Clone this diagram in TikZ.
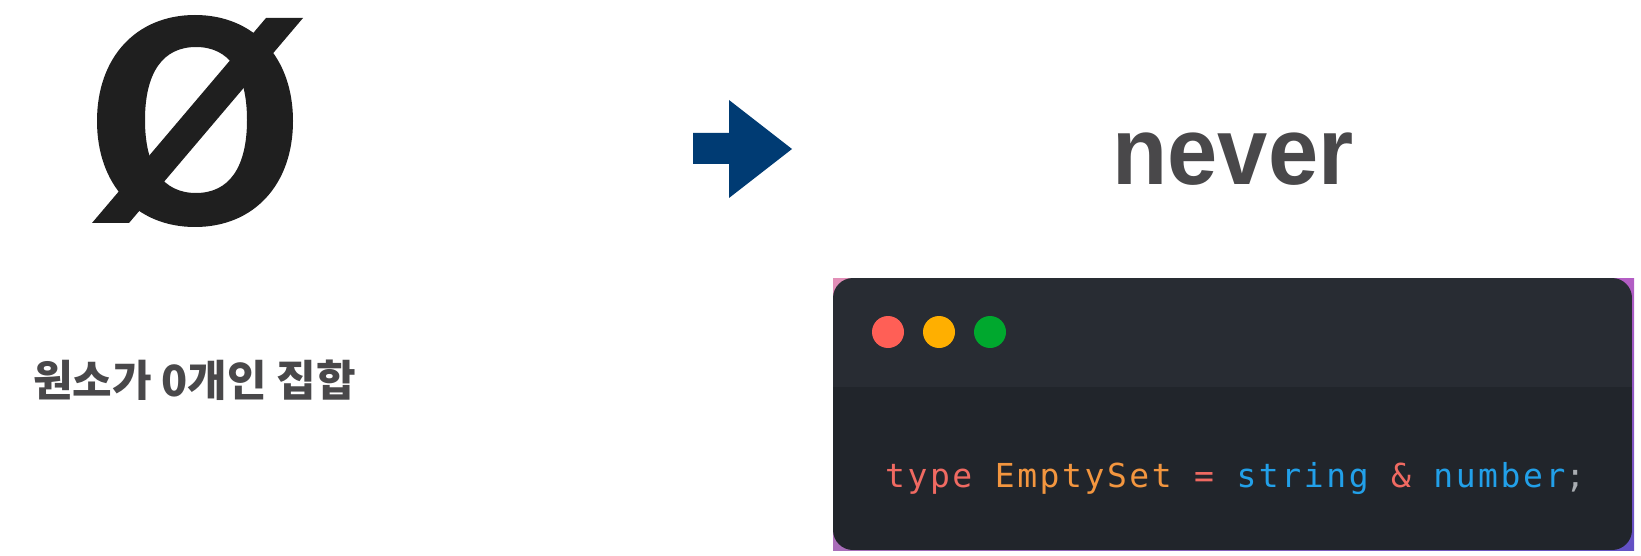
\documentclass[tikz,border=0pt]{standalone}
\usepackage{fontspec}
\usetikzlibrary{shadings}
\setmainfont{Liberation Sans}
\newfontfamily\kr{Noto Sans CJK KR}
\newfontfamily\codefont[LetterSpace=7.8]{DejaVu Sans Mono}
\definecolor{glyph}{HTML}{1F1F1F}
\definecolor{arrowc}{HTML}{003B73}
\definecolor{grayt}{HTML}{49484A}
\definecolor{titlec}{HTML}{282C33}
\definecolor{bodyc}{HTML}{21252B}
\definecolor{dotr}{HTML}{FF5F56}
\definecolor{doty}{HTML}{FFAF00}
\definecolor{dotg}{HTML}{00A82E}
\definecolor{cred}{HTML}{F06A62}
\definecolor{corange}{HTML}{F3963F}
\definecolor{cblue}{HTML}{22A0E9}
\definecolor{cgray}{HTML}{A9ADB2}
\definecolor{gtl}{HTML}{E28FB7}
\definecolor{gtr}{HTML}{B35DC4}
\definecolor{gbl}{HTML}{A86DB9}
\definecolor{gbr}{HTML}{6150C4}
\tikzset{
  dotc/.style={circle, inner sep=0pt, minimum size=32pt},
  lbl/.style={inner sep=0pt, text=grayt}
}
\begin{document}
\begin{tikzpicture}[x=1pt,y=-1pt]
\useasboundingbox (0,0) rectangle (1641,556);
% empty set symbol
\fill[glyph, even odd rule]
  (293,121) .. controls (293,184.6) and (253.8,227) .. (195,227)
  .. controls (136.2,227) and (97,184.6) .. (97,121)
  .. controls (97,57.4) and (136.2,15) .. (195,15)
  .. controls (253.8,15) and (293,57.4) .. (293,121) -- cycle
  (247,120) .. controls (247,167.45) and (229.15,193) .. (196,193)
  .. controls (162.85,193) and (145,167.45) .. (145,120)
  .. controls (145,72.55) and (162.85,47) .. (196,47)
  .. controls (229.15,47) and (247,72.55) .. (247,120) -- cycle;
\fill[glyph] (92,223) -- (129,223) -- (303,18) -- (266,18) -- cycle;
% label
\node[lbl, anchor=base west, font=\kr\bfseries\fontsize{43}{47}\selectfont] (lab) at (33,396) {원소가 0개인 집합};
% arrow
\fill[arrowc] (693,133) -- (729,133) -- (729,100) -- (792,149) -- (729,198) -- (729,164) -- (693,164) -- cycle;
% never
\node[lbl, anchor=base, xscale=0.94, font=\bfseries\fontsize{96}{100}\selectfont] (never) at (1233,185) {never};
% code window
\shade[upper left=gtl, upper right=gtr, lower left=gbl, lower right=gbr] (833,278) rectangle (1634,550);
\begin{scope}
\clip[rounded corners=20] (833,278) rectangle (1632,550);
\fill[titlec] (833,278) rectangle (1632,387);
\fill[bodyc] (833,387) rectangle (1632,550);
\end{scope}
\node[dotc, fill=dotr] (r) at (888,332) {};
\node[dotc, fill=doty] (y) at (939,332) {};
\node[dotc, fill=dotg] (g) at (990,332) {};
\node[inner sep=0pt, anchor=base west, font=\codefont\fontsize{33}{36}\selectfont] (code) at (885,487)
 {\textcolor{cred}{type} \textcolor{corange}{EmptySet} \textcolor{cred}{=} \textcolor{cblue}{string} \textcolor{cred}{\&} \textcolor{cblue}{number}\textcolor{cgray}{;}};
\end{tikzpicture}
\end{document}
